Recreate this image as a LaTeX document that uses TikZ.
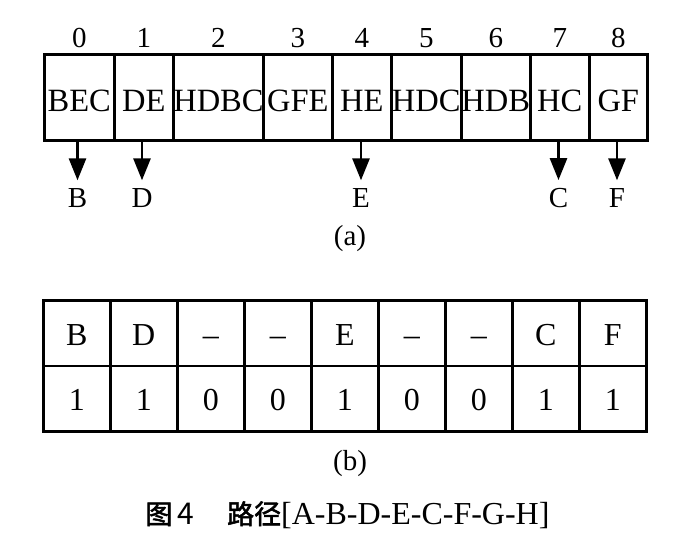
\documentclass[tikz,border=0pt]{standalone}
\usepackage{fontspec}
\setmainfont{Liberation Serif}
\newfontfamily\cjk{Noto Sans CJK SC}[FakeBold=2]
\newfontfamily\cjksans{Noto Sans CJK SC}
\usetikzlibrary{arrows.meta,calc}
\begin{document}
\begin{tikzpicture}[x=1pt,y=-1pt,
  topcell/.style={draw,line width=2.6pt,inner sep=0pt,anchor=north west,
    minimum height=86pt,text height=28pt,text depth=0pt,
    font=\fontsize{32.5}{32.5}\selectfont},
  botcell/.style={draw,line width=2.6pt,inner sep=0pt,anchor=north west,
    minimum width=67pt,minimum height=65.5pt,text height=24.5pt,text depth=0pt,
    font=\fontsize{32}{32}\selectfont},
  small/.style={inner sep=0pt,anchor=base,font=\fontsize{29}{29}\selectfont},
  arr/.style={line width=2.8pt,-{Triangle[width=17pt,length=22pt]},shorten >=8pt},
  captext/.style={inner sep=0pt,anchor=base,font=\fontsize{32}{32}\selectfont}]
\useasboundingbox[fill=white] (0,0) rectangle (678,533);
% top row (a)
\foreach \i/\l/\w/\t in {0/43/70/BEC,1/113/59/DE,2/172/90/HDBC,3/262/69/GFE,4/331/59/HE,5/390/70/HDC,6/460/69/HDB,7/529/59/HC,8/588/58/GF}{
  \node[topcell,minimum width=\w pt] (t\i) at (\l,53) {\t};
  \node[small] (n\i) at ($(t\i.north)+(0,-6)$) {\i};
}
\node[small] (lB) at (77.5,207.5) {B};
\node[small] (lD) at (142,207.5) {D};
\node[small] (lE) at (361,207.5) {E};
\node[small] (lC) at (558.5,207.5) {C};
\node[small] (lF) at (617,207.5) {F};
\draw[arr] (t0.south -| lB) -- (lB.north);
\draw[arr] (t1.south -| lD) -- (lD.north);
\draw[arr] (t4.south -| lE) -- (lE.north);
\draw[arr] (t7.south -| lC) -- (lC.north);
\draw[arr] (t8.south -| lF) -- (lF.north);
\node[small] (capa) at (350,245) {(a)};
% bottom table (b)
\foreach \i/\t/\v in {0/B/1,1/D/1,2/–/0,3/–/0,4/E/1,5/–/0,6/–/0,7/C/1,8/F/1}{
  \node[botcell] (u\i) at (42+67*\i,299) {\t};
  \node[botcell] (v\i) at (42+67*\i,364.5) {\v};
}
\node[small] (capb) at (350,470) {(b)};
% caption
\node[captext] (cap) at (347.5,524) {{\fontsize{27}{27}\cjk 图}\hspace{5pt}{\fontsize{30}{30}\cjksans 4}\hspace{33pt}{\fontsize{27}{27}\cjk 路径}[A-B-D-E-C-F-G-H]};
\end{tikzpicture}
\end{document}
